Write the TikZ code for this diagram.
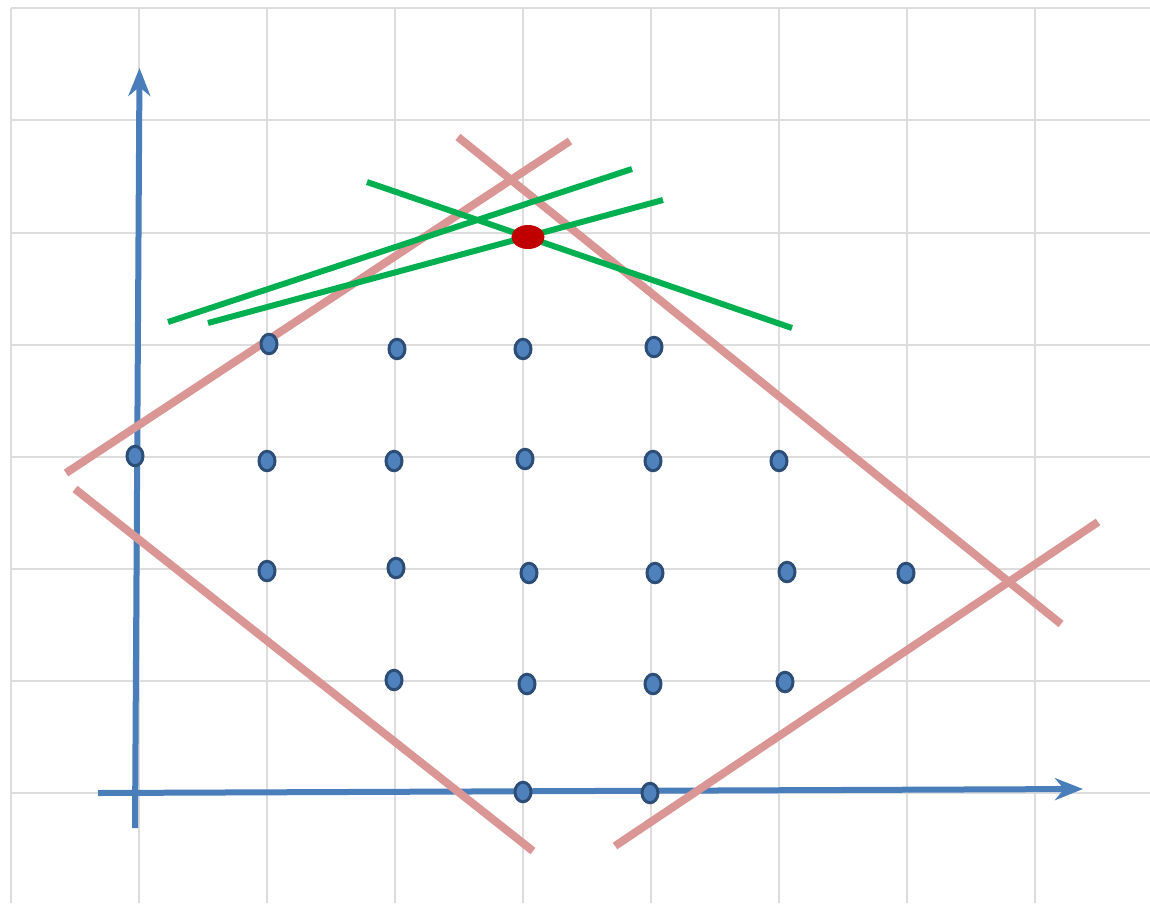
\documentclass[tikz,border=0pt]{standalone}
\usetikzlibrary{arrows.meta,shapes.geometric}
\definecolor{gridc}{HTML}{DDDDDD}
\definecolor{axisc}{HTML}{4A7EBB}
\definecolor{pinkc}{HTML}{D99694}
\definecolor{greenc}{HTML}{00B050}
\definecolor{dotfill}{HTML}{4F81BD}
\definecolor{dotedge}{HTML}{2C4D75}
\definecolor{redc}{HTML}{C00000}
\tikzset{
  gridline/.style={gridc, line width=1.3pt},
  axisline/.style={axisc, line width=6pt, -{Stealth[length=28pt,width=22pt,inset=9pt]}},
  constraint/.style={pinkc, line width=8pt},
  cutline/.style={greenc, line width=6pt},
  dot/.style={ellipse, fill=dotfill, draw=dotedge, line width=3pt, minimum width=16pt, minimum height=19.5pt, inner sep=0pt},
  optdot/.style={ellipse, fill=redc, draw=redc, line width=1pt, minimum width=32pt, minimum height=23pt, inner sep=0pt}
}
\begin{document}
\begin{tikzpicture}[x=1pt,y=-1pt]
\useasboundingbox (0,0) rectangle (1150,903);
% grid
\foreach \x in {11,139,267,395,523,651,779,907,1035}
  \draw[gridline] (\x,8) -- (\x,903);
\foreach \y in {8,120,233,345,457,569,681,793}
  \draw[gridline] (11,\y) -- (1150,\y);
% axes
\coordinate (xs) at (98,793);
\coordinate (xe) at (1083,789);
\coordinate (ys) at (135,828);
\coordinate (ye) at (139.5,68);
\draw[axisline] (ys) -- (ye);
\draw[axisline] (xs) -- (xe);
% pink constraint lines
\coordinate (p1a) at (66,473);  \coordinate (p1b) at (570,141);
\coordinate (p2a) at (458,137); \coordinate (p2b) at (1061,624);
\coordinate (p3a) at (75,489);  \coordinate (p3b) at (533,851);
\coordinate (p4a) at (615,846); \coordinate (p4b) at (1098,522);
\draw[constraint] (p1a) -- (p1b);
\draw[constraint] (p2a) -- (p2b);
\draw[constraint] (p3a) -- (p3b);
\draw[constraint] (p4a) -- (p4b);
% green lines
\coordinate (g1a) at (168,322); \coordinate (g1b) at (632,169);
\coordinate (g2a) at (208,323); \coordinate (g2b) at (663,200);
\coordinate (g3a) at (367,182); \coordinate (g3b) at (792,328);
\draw[cutline] (g1a) -- (g1b);
\draw[cutline] (g2a) -- (g2b);
\draw[cutline] (g3a) -- (g3b);
% lattice points
\node[dot] (d11) at (269,344) {};
\node[dot] (d12) at (397,349) {};
\node[dot] (d13) at (523,349) {};
\node[dot] (d14) at (654,347) {};
\node[dot] (d21) at (135,456) {};
\node[dot] (d22) at (267,461) {};
\node[dot] (d23) at (394,461) {};
\node[dot] (d24) at (525,459) {};
\node[dot] (d25) at (653,461) {};
\node[dot] (d26) at (779,461) {};
\node[dot] (d31) at (267,571) {};
\node[dot] (d32) at (396,568) {};
\node[dot] (d33) at (529,573) {};
\node[dot] (d34) at (655,573) {};
\node[dot] (d35) at (787,572) {};
\node[dot] (d36) at (906,573) {};
\node[dot] (d41) at (394,680) {};
\node[dot] (d42) at (527,684) {};
\node[dot] (d43) at (653,684) {};
\node[dot] (d44) at (785,682) {};
\node[dot] (d51) at (523,792) {};
\node[dot] (d52) at (650,793) {};
% optimum
\node[optdot] (opt) at (528,237) {};
\end{tikzpicture}
\end{document}
